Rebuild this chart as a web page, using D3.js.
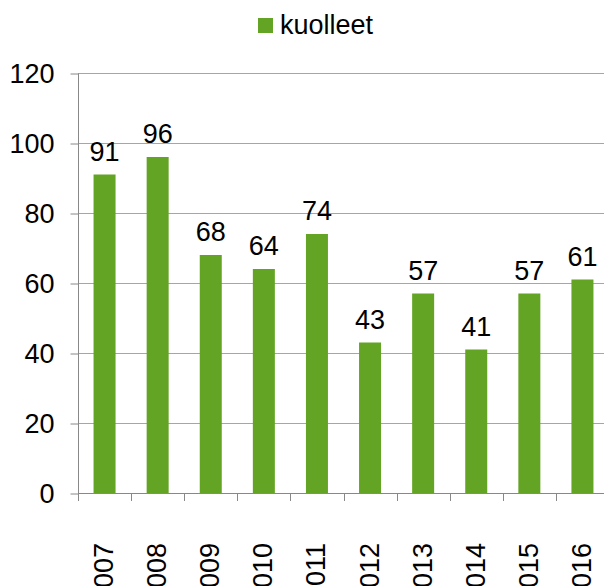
<!DOCTYPE html>
<html>
<head>
<meta charset="utf-8">
<script src="https://cdn.jsdelivr.net/npm/d3@7"></script>
<style>
  html, body { margin: 0; padding: 0; background: #fff; }
  svg { display: block; }
  text { font-family: "Liberation Sans", Arial, sans-serif; fill: #000; }
</style>
</head>
<body>
<svg id="chart" width="604" height="586"></svg>
<script>
const years = ["2007","2008","2009","2010","2011","2012","2013","2014","2015","2016"];
const kuolleet = [91, 96, 68, 64, 74, 43, 57, 41, 57, 61];
const yTicks = [0, 20, 40, 60, 80, 100, 120];
const seriesName = "kuolleet";

(function () {
const svg = d3.select("#chart");
const W = 604;
const plotLeft = 78, plotTop = 73, plotBottom = 493;
const step = 53.1;
const barColor = "#63a424";
const fs = 27;

const x = d3.scaleBand().domain(years).range([plotLeft, plotLeft + step * years.length]).padding(0);
const y = d3.scaleLinear().domain([0, 120]).range([plotBottom, plotTop]);
const barW = 22;

// gridlines
svg.append("g").selectAll("line").data(yTicks.filter(t => t > 0)).join("line")
  .attr("x1", plotLeft).attr("x2", W)
  .attr("y1", d => y(d) + 0.5).attr("y2", d => y(d) + 0.5)
  .attr("stroke", "#a6a6a6").attr("stroke-width", 1);

// bars
svg.append("g").selectAll("rect").data(years).join("rect")
  .attr("x", d => x(d) + (x.bandwidth() - barW) / 2)
  .attr("width", barW)
  .attr("y", (d, i) => y(kuolleet[i]))
  .attr("height", (d, i) => y(0) - y(kuolleet[i]))
  .attr("fill", barColor);

// y axis
const yAxis = d3.axisLeft(y).tickValues(yTicks).tickSize(8).tickPadding(16).tickFormat(d3.format("d"));
const gy = svg.append("g").attr("transform", `translate(${plotLeft + 0.5},0.5)`).call(yAxis);
gy.select(".domain").attr("stroke", "#888").attr("d", `M0,${plotTop}V${plotBottom}`);
gy.selectAll(".tick line").attr("stroke", "#888");
gy.selectAll(".tick text").attr("font-size", fs).attr("font-family", "Liberation Sans, Arial, sans-serif").attr("fill", "#000");

// x axis baseline and tick marks at band boundaries
const bounds = years.map(d => x(d)).concat([x(years[years.length-1]) + x.bandwidth()]);
svg.append("line").attr("x1", plotLeft).attr("x2", W).attr("y1", plotBottom + 0.5).attr("y2", plotBottom + 0.5)
  .attr("stroke", "#888");
svg.append("g").selectAll("line").data(bounds).join("line")
  .attr("x1", d => Math.round(d) + 0.5).attr("x2", d => Math.round(d) + 0.5)
  .attr("y1", plotBottom).attr("y2", plotBottom + 8)
  .attr("stroke", "#888");

// x labels (rotated, clipped by the bottom edge as in the reference)
svg.append("g").selectAll("text").data(years).join("text")
  .attr("transform", d => `translate(${x(d) + x.bandwidth()/2 - 1},543) rotate(-90)`)
  .attr("text-anchor", "end")
  .attr("dy", "0.35em")
  .attr("font-size", fs)
  .text(d => d);

// data labels
svg.append("g").selectAll("text").data(years).join("text")
  .attr("x", d => x(d) + x.bandwidth()/2)
  .attr("y", (d, i) => y(kuolleet[i]) - 14)
  .attr("text-anchor", "middle")
  .attr("font-size", fs)
  .text((d, i) => kuolleet[i]);

// legend
const lg = svg.append("g");
lg.append("rect").attr("x", 258).attr("y", 18).attr("width", 15).attr("height", 15).attr("fill", barColor);
lg.append("text").attr("x", 280).attr("y", 34).attr("font-size", fs).text(seriesName);
})();
</script>
</body>
</html>
